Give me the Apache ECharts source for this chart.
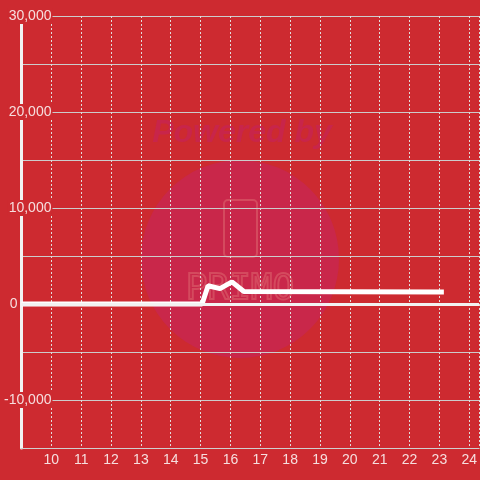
<!DOCTYPE html>
<html>
<head>
<meta charset="utf-8">
<script src="https://cdn.jsdelivr.net/npm/echarts@6/dist/echarts.min.js"></script>
<style>
  html, body { margin: 0; padding: 0; background: #cd2a30; }
  #chart { width: 480px; height: 480px; }
</style>
</head>
<body>
<div id="chart"></div>
<script>
// hour of day -> value
const hours = [9, 15.05, 15.25, 15.65, 16.05, 16.45, 23.15]
const values = [0, 0, 1900, 1600, 2300, 1300, 1250]

const xMin = 9
const xMax = 24.33
const yMin = -15000
const yMax = 30000
const yLabelStep = 10000

const bg = "#cd2a30"
const textColor = "#f6dede"

const chart = echarts.init(document.getElementById("chart"))

const option = {
  backgroundColor: bg,
  animation: false,
  textStyle: { fontFamily: "Liberation Sans, Arial, sans-serif" },
  grid: { left: 20, right: 0, top: 16, bottom: 32, containLabel: false },
  graphic: [
    {
      type: "circle",
      z: -10,
      shape: { cx: 240, cy: 259, r: 99 },
      style: { fill: "#c9274a" },
      silent: true,
    },
    {
      type: "text",
      z: -10,
      x: 242,
      y: 133,
      style: {
        text: "Powered by",
        fill: "#c8254a",
        font: "italic bold 32px Liberation Sans, Arial, sans-serif",
        align: "center",
        verticalAlign: "middle",
      },
      silent: true,
    },
    {
      type: "rect",
      z: -9,
      shape: { x: 224, y: 200, width: 33, height: 57, r: 4 },
      style: { fill: "none", stroke: "#d44a5e", lineWidth: 2 },
      silent: true,
    },
    {
      type: "text",
      z: -9,
      x: 240,
      y: 290,
      style: {
        text: "PRIMO",
        fill: "none",
        stroke: "#d44a5e",
        lineWidth: 2,
        font: "36px DejaVu Sans Mono, monospace",
        align: "center",
        verticalAlign: "middle",
      },
      silent: true,
    },
  ],
  xAxis: {
    type: "value",
    min: xMin,
    max: xMax,
    interval: 1,
    axisLine: { onZero: false, lineStyle: { color: "#cfcfcf", width: 1 } },
    axisTick: { show: false },
    axisLabel: {
      color: textColor,
      fontSize: 14,
      margin: 5,
      showMinLabel: false,
      showMaxLabel: false,
      formatter: (v) => (Number.isInteger(v) ? String(v) : ""),
    },
    splitLine: {
      show: true,
      lineStyle: { color: "#e2dcdc", width: 1, type: [2, 2] },
    },
  },
  yAxis: {
    type: "value",
    min: yMin,
    max: yMax,
    interval: 5000,
    axisLine: { show: true, lineStyle: { color: "#f2f2f2", width: 3 } },
    axisTick: { show: false },
    axisLabel: {
      color: textColor,
      fontSize: 14,
      align: "right",
      margin: -31,
      formatter: (v) => {
        if (v % yLabelStep !== 0) return ""
        if (v === 0) return "{z|0}"
        return "{a|" + v.toLocaleString("en-US") + "}"
      },
      rich: {
        a: { color: textColor, fontSize: 14, backgroundColor: bg, padding: [1, 1] },
        z: { color: textColor, fontSize: 14, padding: [0, 35, 0, 0] },
      },
    },
    splitLine: {
      show: true,
      lineStyle: { color: "#cccccc", width: 1 },
    },
  },
  series: [
    {
      type: "line",
      data: hours.map((h, i) => [h, values[i]]),
      symbol: "none",
      lineStyle: { color: "#ffffff", width: 5 },
      markLine: {
        silent: true,
        symbol: "none",
        label: { show: false },
        lineStyle: { color: "#f2f2f2", width: 3, type: "solid" },
        data: [{ yAxis: 0 }],
      },
    },
  ],
}

chart.setOption(option)
</script>
</body>
</html>
